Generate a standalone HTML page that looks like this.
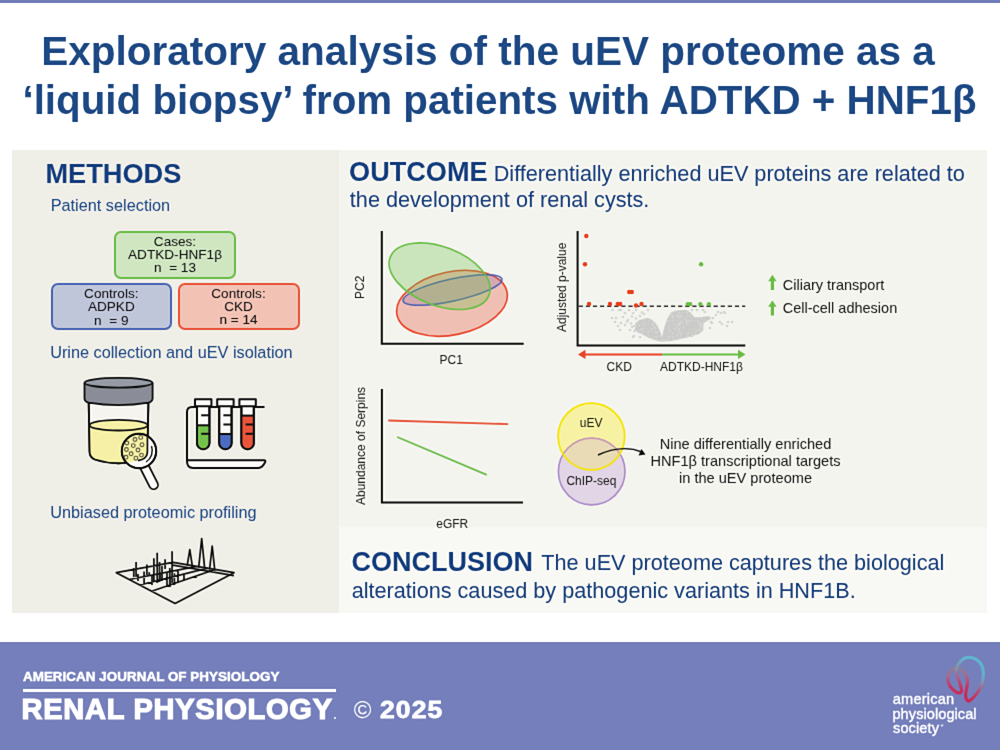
<!DOCTYPE html>
<html><head><meta charset="utf-8"><style>
html,body{margin:0;padding:0;}
body{width:1000px;height:750px;position:relative;overflow:hidden;background:#fff;font-family:"Liberation Sans", sans-serif;}
.t{position:absolute;white-space:pre;font-family:"Liberation Sans", sans-serif;}
.h{text-shadow:0 0 1px #fff,0 0 1.6px #fff,0 0 2px rgba(255,255,255,.8);}
.b{position:absolute;}
</style></head><body>
<svg width="0" height="0" style="position:absolute"><filter id="usm" x="0" y="0" width="100%" height="100%" color-interpolation-filters="sRGB"><feConvolveMatrix in="SourceGraphic" order="3" kernelMatrix="0.5 1 0.5 1 6.0 1 0.5 1 0.5" divisor="12.0" edgeMode="duplicate" preserveAlpha="true" result="a"/><feGaussianBlur in="SourceGraphic" stdDeviation="1.2" result="b"/><feComposite in="a" in2="b" operator="arithmetic" k1="0" k2="1.6" k3="-0.6" k4="0"/></filter></svg><div id="wrap" style="position:absolute;left:-12px;top:-12px;width:1024px;height:774px;background:#fff;filter:url(#usm);">
<div class="b" style="left:0;top:0;width:1024px;height:15px;background:#737dba"></div>
<div class="b" style="left:0;top:654px;width:1024px;height:120px;background:#757fbb"></div>
<div style="position:absolute;left:12px;top:12px;width:1000px;height:750px;">
<div class="b" style="left:12px;top:150px;width:327px;height:463px;background:#efeee7"></div>
<div class="b" style="left:339px;top:150px;width:648px;height:377px;background:#f4f4ef"></div>
<div class="b" style="left:339px;top:527px;width:648px;height:86px;background:#f8f8f4"></div>
<div class="b" style="left:0;top:642px;width:1000px;height:108px;background:#757fbb"></div>
<div class="b" style="left:23px;top:689px;width:313px;height:3px;background:#fff"></div>
<div class="b" style="left:114px;top:231px;width:122px;height:48px;box-sizing:border-box;border:2px solid #6cbd4a;background:#cfe6c1;border-radius:7px"></div>
<div class="b" style="left:51px;top:283px;width:121px;height:47px;box-sizing:border-box;border:2px solid #4a66b5;background:#c0c6da;border-radius:7px"></div>
<div class="b" style="left:177.5px;top:283px;width:122px;height:47px;box-sizing:border-box;border:2px solid #e8553a;background:#f2c3b5;border-radius:7px"></div>
<svg class="b" style="left:0;top:0" width="1000" height="750" viewBox="0 0 1000 750"><g id="pca">
<ellipse cx="452" cy="303.3" rx="56.2" ry="31.5" transform="rotate(-12 452 303.3)" fill="rgba(232,69,42,0.30)" stroke="#e8452a" stroke-width="1.6"/>
<ellipse cx="452.5" cy="290" rx="50.6" ry="11" transform="rotate(-12.4 452.5 290)" fill="rgba(110,90,170,0.22)" stroke="#4a62b2" stroke-width="1.5"/>
<ellipse cx="439.6" cy="276.2" rx="52.9" ry="29.3" transform="rotate(21 439.6 276.2)" fill="rgba(106,191,69,0.30)" stroke="#6abf45" stroke-width="1.6"/>
<path d="M381.8 231 V343.8 H523.7" fill="none" stroke="#111" stroke-width="2"/>
</g>
<g id="volcano">
<path d="M661.8 341.0 L654.0 339.2 L648.0 336.8 L643.8 334.4 L637.5 331.6 L635.4 329.0 L636.4 326.5 L636.0 323.5 L638.5 321.2 L643.0 319.6 L648.0 318.8 L652.0 320.5 L655.0 323.5 L657.5 327.0 L659.6 332.0 L661.2 337.0 Z" fill="#d4d4d2" stroke="#d2d2d0" stroke-width="1.5" stroke-linejoin="round"/>
<path d="M661.8 341.0 L663.2 334.0 L665.4 326.0 L667.6 319.5 L671.0 313.5 L675.0 311.4 L681.0 311.0 L687.0 310.8 L690.4 313.4 L694.0 317.6 L700.0 318.0 L708.4 316.8 L710.8 318.2 L703.0 322.6 L702.4 330.4 L698.8 333.4 L689.2 336.2 L680.0 338.6 L670.0 340.6 Z" fill="#d4d4d2" stroke="#d2d2d0" stroke-width="1.5" stroke-linejoin="round"/>
<g fill="#c4c4c2"><circle cx="677.9" cy="311.3" r="0.75"/><circle cx="679.8" cy="311.3" r="0.75"/><circle cx="681.2" cy="311.3" r="0.75"/><circle cx="683.5" cy="311.3" r="0.75"/><circle cx="684.9" cy="311.3" r="0.75"/><circle cx="673.6" cy="312.9" r="0.75"/><circle cx="675.3" cy="312.9" r="0.75"/><circle cx="677.1" cy="312.9" r="0.75"/><circle cx="680.7" cy="312.9" r="0.75"/><circle cx="682.1" cy="312.9" r="0.75"/><circle cx="684.3" cy="312.9" r="0.75"/><circle cx="685.7" cy="312.9" r="0.75"/><circle cx="689.7" cy="312.9" r="0.75"/><circle cx="672.8" cy="314.5" r="0.75"/><circle cx="674.5" cy="314.5" r="0.75"/><circle cx="676.4" cy="314.5" r="0.75"/><circle cx="679.5" cy="314.5" r="0.75"/><circle cx="681.8" cy="314.5" r="0.75"/><circle cx="683.4" cy="314.5" r="0.75"/><circle cx="685.1" cy="314.5" r="0.75"/><circle cx="686.8" cy="314.5" r="0.75"/><circle cx="688.8" cy="314.5" r="0.75"/><circle cx="670.1" cy="316.1" r="0.75"/><circle cx="675.0" cy="316.1" r="0.75"/><circle cx="682.5" cy="316.1" r="0.75"/><circle cx="684.4" cy="316.1" r="0.75"/><circle cx="685.9" cy="316.1" r="0.75"/><circle cx="688.0" cy="316.1" r="0.75"/><circle cx="691.6" cy="316.1" r="0.75"/><circle cx="668.7" cy="317.7" r="0.75"/><circle cx="670.9" cy="317.7" r="0.75"/><circle cx="674.4" cy="317.7" r="0.75"/><circle cx="676.2" cy="317.7" r="0.75"/><circle cx="678.1" cy="317.7" r="0.75"/><circle cx="681.8" cy="317.7" r="0.75"/><circle cx="683.0" cy="317.7" r="0.75"/><circle cx="684.8" cy="317.7" r="0.75"/><circle cx="686.8" cy="317.7" r="0.75"/><circle cx="688.5" cy="317.7" r="0.75"/><circle cx="690.7" cy="317.7" r="0.75"/><circle cx="692.6" cy="317.7" r="0.75"/><circle cx="703.1" cy="317.7" r="0.75"/><circle cx="705.0" cy="317.7" r="0.75"/><circle cx="706.7" cy="317.7" r="0.75"/><circle cx="708.8" cy="317.7" r="0.75"/><circle cx="646.4" cy="319.3" r="0.75"/><circle cx="648.0" cy="319.3" r="0.75"/><circle cx="668.3" cy="319.3" r="0.75"/><circle cx="669.8" cy="319.3" r="0.75"/><circle cx="671.5" cy="319.3" r="0.75"/><circle cx="673.1" cy="319.3" r="0.75"/><circle cx="675.3" cy="319.3" r="0.75"/><circle cx="677.1" cy="319.3" r="0.75"/><circle cx="678.9" cy="319.3" r="0.75"/><circle cx="680.7" cy="319.3" r="0.75"/><circle cx="682.1" cy="319.3" r="0.75"/><circle cx="684.3" cy="319.3" r="0.75"/><circle cx="687.8" cy="319.3" r="0.75"/><circle cx="689.5" cy="319.3" r="0.75"/><circle cx="691.3" cy="319.3" r="0.75"/><circle cx="693.3" cy="319.3" r="0.75"/><circle cx="694.9" cy="319.3" r="0.75"/><circle cx="696.5" cy="319.3" r="0.75"/><circle cx="698.7" cy="319.3" r="0.75"/><circle cx="700.2" cy="319.3" r="0.75"/><circle cx="703.8" cy="319.3" r="0.75"/><circle cx="705.9" cy="319.3" r="0.75"/><circle cx="707.5" cy="319.3" r="0.75"/><circle cx="640.3" cy="320.9" r="0.75"/><circle cx="642.1" cy="320.9" r="0.75"/><circle cx="643.6" cy="320.9" r="0.75"/><circle cx="645.7" cy="320.9" r="0.75"/><circle cx="647.1" cy="320.9" r="0.75"/><circle cx="649.1" cy="320.9" r="0.75"/><circle cx="651.1" cy="320.9" r="0.75"/><circle cx="670.6" cy="320.9" r="0.75"/><circle cx="674.5" cy="320.9" r="0.75"/><circle cx="675.9" cy="320.9" r="0.75"/><circle cx="678.1" cy="320.9" r="0.75"/><circle cx="679.6" cy="320.9" r="0.75"/><circle cx="681.5" cy="320.9" r="0.75"/><circle cx="683.6" cy="320.9" r="0.75"/><circle cx="684.8" cy="320.9" r="0.75"/><circle cx="692.6" cy="320.9" r="0.75"/><circle cx="696.0" cy="320.9" r="0.75"/><circle cx="699.5" cy="320.9" r="0.75"/><circle cx="701.2" cy="320.9" r="0.75"/><circle cx="702.8" cy="320.9" r="0.75"/><circle cx="704.8" cy="320.9" r="0.75"/><circle cx="639.4" cy="322.5" r="0.75"/><circle cx="641.3" cy="322.5" r="0.75"/><circle cx="646.1" cy="322.5" r="0.75"/><circle cx="648.0" cy="322.5" r="0.75"/><circle cx="650.1" cy="322.5" r="0.75"/><circle cx="651.7" cy="322.5" r="0.75"/><circle cx="667.9" cy="322.5" r="0.75"/><circle cx="670.0" cy="322.5" r="0.75"/><circle cx="671.8" cy="322.5" r="0.75"/><circle cx="673.2" cy="322.5" r="0.75"/><circle cx="675.4" cy="322.5" r="0.75"/><circle cx="677.2" cy="322.5" r="0.75"/><circle cx="684.3" cy="322.5" r="0.75"/><circle cx="687.7" cy="322.5" r="0.75"/><circle cx="689.6" cy="322.5" r="0.75"/><circle cx="691.4" cy="322.5" r="0.75"/><circle cx="692.9" cy="322.5" r="0.75"/><circle cx="694.8" cy="322.5" r="0.75"/><circle cx="696.5" cy="322.5" r="0.75"/><circle cx="702.2" cy="322.5" r="0.75"/><circle cx="636.4" cy="324.1" r="0.75"/><circle cx="638.4" cy="324.1" r="0.75"/><circle cx="640.0" cy="324.1" r="0.75"/><circle cx="641.8" cy="324.1" r="0.75"/><circle cx="643.7" cy="324.1" r="0.75"/><circle cx="645.4" cy="324.1" r="0.75"/><circle cx="647.1" cy="324.1" r="0.75"/><circle cx="649.2" cy="324.1" r="0.75"/><circle cx="650.8" cy="324.1" r="0.75"/><circle cx="654.5" cy="324.1" r="0.75"/><circle cx="667.1" cy="324.1" r="0.75"/><circle cx="668.9" cy="324.1" r="0.75"/><circle cx="670.7" cy="324.1" r="0.75"/><circle cx="672.5" cy="324.1" r="0.75"/><circle cx="674.0" cy="324.1" r="0.75"/><circle cx="676.1" cy="324.1" r="0.75"/><circle cx="681.7" cy="324.1" r="0.75"/><circle cx="683.2" cy="324.1" r="0.75"/><circle cx="684.9" cy="324.1" r="0.75"/><circle cx="688.9" cy="324.1" r="0.75"/><circle cx="690.6" cy="324.1" r="0.75"/><circle cx="692.3" cy="324.1" r="0.75"/><circle cx="694.2" cy="324.1" r="0.75"/><circle cx="695.7" cy="324.1" r="0.75"/><circle cx="697.4" cy="324.1" r="0.75"/><circle cx="699.3" cy="324.1" r="0.75"/><circle cx="637.1" cy="325.7" r="0.75"/><circle cx="641.2" cy="325.7" r="0.75"/><circle cx="643.0" cy="325.7" r="0.75"/><circle cx="646.6" cy="325.7" r="0.75"/><circle cx="648.4" cy="325.7" r="0.75"/><circle cx="650.1" cy="325.7" r="0.75"/><circle cx="651.9" cy="325.7" r="0.75"/><circle cx="655.3" cy="325.7" r="0.75"/><circle cx="666.4" cy="325.7" r="0.75"/><circle cx="667.8" cy="325.7" r="0.75"/><circle cx="669.9" cy="325.7" r="0.75"/><circle cx="671.5" cy="325.7" r="0.75"/><circle cx="673.3" cy="325.7" r="0.75"/><circle cx="675.2" cy="325.7" r="0.75"/><circle cx="677.0" cy="325.7" r="0.75"/><circle cx="680.7" cy="325.7" r="0.75"/><circle cx="682.5" cy="325.7" r="0.75"/><circle cx="684.3" cy="325.7" r="0.75"/><circle cx="686.0" cy="325.7" r="0.75"/><circle cx="688.0" cy="325.7" r="0.75"/><circle cx="689.4" cy="325.7" r="0.75"/><circle cx="691.6" cy="325.7" r="0.75"/><circle cx="693.2" cy="325.7" r="0.75"/><circle cx="694.8" cy="325.7" r="0.75"/><circle cx="696.6" cy="325.7" r="0.75"/><circle cx="698.5" cy="325.7" r="0.75"/><circle cx="700.5" cy="325.7" r="0.75"/><circle cx="636.6" cy="327.3" r="0.75"/><circle cx="638.5" cy="327.3" r="0.75"/><circle cx="640.0" cy="327.3" r="0.75"/><circle cx="641.6" cy="327.3" r="0.75"/><circle cx="643.6" cy="327.3" r="0.75"/><circle cx="645.4" cy="327.3" r="0.75"/><circle cx="647.5" cy="327.3" r="0.75"/><circle cx="649.4" cy="327.3" r="0.75"/><circle cx="651.0" cy="327.3" r="0.75"/><circle cx="652.9" cy="327.3" r="0.75"/><circle cx="656.3" cy="327.3" r="0.75"/><circle cx="665.5" cy="327.3" r="0.75"/><circle cx="667.2" cy="327.3" r="0.75"/><circle cx="670.5" cy="327.3" r="0.75"/><circle cx="672.6" cy="327.3" r="0.75"/><circle cx="674.6" cy="327.3" r="0.75"/><circle cx="677.7" cy="327.3" r="0.75"/><circle cx="679.5" cy="327.3" r="0.75"/><circle cx="681.7" cy="327.3" r="0.75"/><circle cx="685.3" cy="327.3" r="0.75"/><circle cx="686.9" cy="327.3" r="0.75"/><circle cx="688.5" cy="327.3" r="0.75"/><circle cx="690.7" cy="327.3" r="0.75"/><circle cx="692.2" cy="327.3" r="0.75"/><circle cx="694.2" cy="327.3" r="0.75"/><circle cx="695.8" cy="327.3" r="0.75"/><circle cx="697.7" cy="327.3" r="0.75"/><circle cx="699.6" cy="327.3" r="0.75"/><circle cx="635.6" cy="328.9" r="0.75"/><circle cx="637.3" cy="328.9" r="0.75"/><circle cx="639.0" cy="328.9" r="0.75"/><circle cx="644.9" cy="328.9" r="0.75"/><circle cx="646.6" cy="328.9" r="0.75"/><circle cx="648.1" cy="328.9" r="0.75"/><circle cx="650.1" cy="328.9" r="0.75"/><circle cx="653.8" cy="328.9" r="0.75"/><circle cx="657.2" cy="328.9" r="0.75"/><circle cx="666.2" cy="328.9" r="0.75"/><circle cx="668.1" cy="328.9" r="0.75"/><circle cx="669.8" cy="328.9" r="0.75"/><circle cx="671.7" cy="328.9" r="0.75"/><circle cx="673.2" cy="328.9" r="0.75"/><circle cx="676.8" cy="328.9" r="0.75"/><circle cx="680.5" cy="328.9" r="0.75"/><circle cx="682.5" cy="328.9" r="0.75"/><circle cx="684.3" cy="328.9" r="0.75"/><circle cx="685.9" cy="328.9" r="0.75"/><circle cx="687.5" cy="328.9" r="0.75"/><circle cx="689.8" cy="328.9" r="0.75"/><circle cx="691.5" cy="328.9" r="0.75"/><circle cx="693.1" cy="328.9" r="0.75"/><circle cx="695.2" cy="328.9" r="0.75"/><circle cx="696.8" cy="328.9" r="0.75"/><circle cx="698.8" cy="328.9" r="0.75"/><circle cx="700.3" cy="328.9" r="0.75"/><circle cx="702.2" cy="328.9" r="0.75"/><circle cx="638.2" cy="330.5" r="0.75"/><circle cx="641.8" cy="330.5" r="0.75"/><circle cx="643.5" cy="330.5" r="0.75"/><circle cx="645.6" cy="330.5" r="0.75"/><circle cx="647.1" cy="330.5" r="0.75"/><circle cx="649.2" cy="330.5" r="0.75"/><circle cx="652.8" cy="330.5" r="0.75"/><circle cx="654.4" cy="330.5" r="0.75"/><circle cx="656.3" cy="330.5" r="0.75"/><circle cx="657.9" cy="330.5" r="0.75"/><circle cx="665.5" cy="330.5" r="0.75"/><circle cx="667.3" cy="330.5" r="0.75"/><circle cx="672.5" cy="330.5" r="0.75"/><circle cx="674.4" cy="330.5" r="0.75"/><circle cx="677.8" cy="330.5" r="0.75"/><circle cx="681.6" cy="330.5" r="0.75"/><circle cx="683.0" cy="330.5" r="0.75"/><circle cx="685.2" cy="330.5" r="0.75"/><circle cx="686.9" cy="330.5" r="0.75"/><circle cx="688.5" cy="330.5" r="0.75"/><circle cx="690.2" cy="330.5" r="0.75"/><circle cx="692.4" cy="330.5" r="0.75"/><circle cx="694.1" cy="330.5" r="0.75"/><circle cx="699.7" cy="330.5" r="0.75"/><circle cx="701.0" cy="330.5" r="0.75"/><circle cx="639.0" cy="332.1" r="0.75"/><circle cx="641.0" cy="332.1" r="0.75"/><circle cx="644.8" cy="332.1" r="0.75"/><circle cx="646.2" cy="332.1" r="0.75"/><circle cx="650.3" cy="332.1" r="0.75"/><circle cx="651.9" cy="332.1" r="0.75"/><circle cx="653.8" cy="332.1" r="0.75"/><circle cx="659.2" cy="332.1" r="0.75"/><circle cx="664.2" cy="332.1" r="0.75"/><circle cx="665.9" cy="332.1" r="0.75"/><circle cx="667.8" cy="332.1" r="0.75"/><circle cx="669.9" cy="332.1" r="0.75"/><circle cx="671.6" cy="332.1" r="0.75"/><circle cx="673.3" cy="332.1" r="0.75"/><circle cx="675.4" cy="332.1" r="0.75"/><circle cx="676.8" cy="332.1" r="0.75"/><circle cx="680.5" cy="332.1" r="0.75"/><circle cx="682.4" cy="332.1" r="0.75"/><circle cx="684.0" cy="332.1" r="0.75"/><circle cx="685.8" cy="332.1" r="0.75"/><circle cx="687.6" cy="332.1" r="0.75"/><circle cx="689.4" cy="332.1" r="0.75"/><circle cx="691.2" cy="332.1" r="0.75"/><circle cx="693.0" cy="332.1" r="0.75"/><circle cx="694.8" cy="332.1" r="0.75"/><circle cx="696.8" cy="332.1" r="0.75"/><circle cx="698.3" cy="332.1" r="0.75"/><circle cx="643.6" cy="333.7" r="0.75"/><circle cx="645.2" cy="333.7" r="0.75"/><circle cx="647.2" cy="333.7" r="0.75"/><circle cx="649.4" cy="333.7" r="0.75"/><circle cx="650.7" cy="333.7" r="0.75"/><circle cx="652.5" cy="333.7" r="0.75"/><circle cx="654.4" cy="333.7" r="0.75"/><circle cx="656.0" cy="333.7" r="0.75"/><circle cx="658.0" cy="333.7" r="0.75"/><circle cx="659.9" cy="333.7" r="0.75"/><circle cx="665.1" cy="333.7" r="0.75"/><circle cx="667.3" cy="333.7" r="0.75"/><circle cx="668.8" cy="333.7" r="0.75"/><circle cx="670.8" cy="333.7" r="0.75"/><circle cx="674.0" cy="333.7" r="0.75"/><circle cx="675.9" cy="333.7" r="0.75"/><circle cx="677.6" cy="333.7" r="0.75"/><circle cx="679.8" cy="333.7" r="0.75"/><circle cx="683.6" cy="333.7" r="0.75"/><circle cx="685.3" cy="333.7" r="0.75"/><circle cx="690.4" cy="333.7" r="0.75"/><circle cx="692.6" cy="333.7" r="0.75"/><circle cx="694.0" cy="333.7" r="0.75"/><circle cx="697.6" cy="333.7" r="0.75"/><circle cx="646.5" cy="335.3" r="0.75"/><circle cx="650.1" cy="335.3" r="0.75"/><circle cx="652.0" cy="335.3" r="0.75"/><circle cx="653.9" cy="335.3" r="0.75"/><circle cx="655.3" cy="335.3" r="0.75"/><circle cx="657.4" cy="335.3" r="0.75"/><circle cx="658.9" cy="335.3" r="0.75"/><circle cx="664.5" cy="335.3" r="0.75"/><circle cx="666.3" cy="335.3" r="0.75"/><circle cx="668.0" cy="335.3" r="0.75"/><circle cx="669.9" cy="335.3" r="0.75"/><circle cx="671.6" cy="335.3" r="0.75"/><circle cx="673.5" cy="335.3" r="0.75"/><circle cx="675.0" cy="335.3" r="0.75"/><circle cx="679.0" cy="335.3" r="0.75"/><circle cx="682.6" cy="335.3" r="0.75"/><circle cx="684.1" cy="335.3" r="0.75"/><circle cx="685.7" cy="335.3" r="0.75"/><circle cx="688.1" cy="335.3" r="0.75"/><circle cx="689.6" cy="335.3" r="0.75"/><circle cx="691.1" cy="335.3" r="0.75"/><circle cx="648.9" cy="336.9" r="0.75"/><circle cx="650.7" cy="336.9" r="0.75"/><circle cx="652.8" cy="336.9" r="0.75"/><circle cx="654.3" cy="336.9" r="0.75"/><circle cx="658.1" cy="336.9" r="0.75"/><circle cx="660.1" cy="336.9" r="0.75"/><circle cx="663.7" cy="336.9" r="0.75"/><circle cx="665.1" cy="336.9" r="0.75"/><circle cx="666.8" cy="336.9" r="0.75"/><circle cx="670.4" cy="336.9" r="0.75"/><circle cx="674.5" cy="336.9" r="0.75"/><circle cx="676.1" cy="336.9" r="0.75"/><circle cx="678.1" cy="336.9" r="0.75"/><circle cx="679.8" cy="336.9" r="0.75"/><circle cx="681.7" cy="336.9" r="0.75"/><circle cx="683.4" cy="336.9" r="0.75"/><circle cx="684.9" cy="336.9" r="0.75"/><circle cx="655.6" cy="338.5" r="0.75"/><circle cx="657.2" cy="338.5" r="0.75"/><circle cx="659.1" cy="338.5" r="0.75"/><circle cx="660.7" cy="338.5" r="0.75"/><circle cx="662.3" cy="338.5" r="0.75"/><circle cx="664.5" cy="338.5" r="0.75"/><circle cx="666.3" cy="338.5" r="0.75"/><circle cx="667.8" cy="338.5" r="0.75"/><circle cx="670.1" cy="338.5" r="0.75"/><circle cx="671.6" cy="338.5" r="0.75"/><circle cx="673.2" cy="338.5" r="0.75"/><circle cx="675.5" cy="338.5" r="0.75"/><circle cx="677.2" cy="338.5" r="0.75"/><circle cx="658.4" cy="340.1" r="0.75"/><circle cx="659.9" cy="340.1" r="0.75"/><circle cx="669.1" cy="340.1" r="0.75"/><circle cx="671.0" cy="340.1" r="0.75"/></g>
<circle cx="612.5" cy="310" r="1.3" fill="#d4d4d2"/>
<circle cx="619" cy="310" r="1.3" fill="#d4d4d2"/>
<circle cx="621" cy="310" r="1.3" fill="#d4d4d2"/>
<circle cx="629" cy="310" r="1.3" fill="#d4d4d2"/>
<circle cx="636" cy="310" r="1.3" fill="#d4d4d2"/>
<circle cx="648" cy="310" r="1.3" fill="#d4d4d2"/>
<circle cx="625" cy="313" r="1.3" fill="#d4d4d2"/>
<circle cx="633" cy="313" r="1.3" fill="#d4d4d2"/>
<circle cx="616" cy="318" r="1.3" fill="#d4d4d2"/>
<circle cx="623" cy="317" r="1.3" fill="#d4d4d2"/>
<circle cx="628" cy="320" r="1.3" fill="#d4d4d2"/>
<circle cx="640" cy="316" r="1.3" fill="#d4d4d2"/>
<circle cx="621" cy="323" r="1.3" fill="#d4d4d2"/>
<circle cx="625" cy="325" r="1.3" fill="#d4d4d2"/>
<circle cx="632" cy="327" r="1.3" fill="#d4d4d2"/>
<circle cx="634" cy="326" r="1.3" fill="#d4d4d2"/>
<circle cx="634" cy="336" r="1.3" fill="#d4d4d2"/>
<circle cx="692" cy="310" r="1.3" fill="#d4d4d2"/>
<circle cx="697" cy="310" r="1.3" fill="#d4d4d2"/>
<circle cx="703" cy="310" r="1.3" fill="#d4d4d2"/>
<circle cx="718" cy="312" r="1.3" fill="#d4d4d2"/>
<circle cx="724" cy="312" r="1.3" fill="#d4d4d2"/>
<circle cx="725" cy="313" r="1.3" fill="#d4d4d2"/>
<circle cx="711" cy="322" r="1.3" fill="#d4d4d2"/>
<circle cx="712" cy="323" r="1.3" fill="#d4d4d2"/>
<circle cx="720" cy="322" r="1.3" fill="#d4d4d2"/>
<circle cx="722" cy="324" r="1.3" fill="#d4d4d2"/>
<circle cx="728" cy="322" r="1.3" fill="#d4d4d2"/>
<circle cx="732" cy="322" r="1.3" fill="#d4d4d2"/>
<circle cx="727" cy="326" r="1.3" fill="#d4d4d2"/>
<circle cx="640" cy="337" r="1.3" fill="#d4d4d2"/>
<circle cx="633" cy="337" r="1.3" fill="#d4d4d2"/>
<circle cx="692" cy="336" r="1.3" fill="#d4d4d2"/>
<circle cx="700" cy="330" r="1.3" fill="#d4d4d2"/>
<circle cx="710" cy="328" r="1.3" fill="#d4d4d2"/>
<circle cx="700" cy="326" r="1.3" fill="#d4d4d2"/>
<circle cx="716" cy="315" r="1.3" fill="#d4d4d2"/>
<circle cx="721" cy="313" r="1.3" fill="#d4d4d2"/>
<circle cx="618" cy="326" r="1.3" fill="#d4d4d2"/>
<circle cx="630" cy="330" r="1.3" fill="#d4d4d2"/>
<circle cx="644" cy="314" r="1.3" fill="#d4d4d2"/>
<circle cx="705" cy="312" r="1.3" fill="#d4d4d2"/>
<circle cx="713" cy="318" r="1.3" fill="#d4d4d2"/>
<circle cx="632" cy="316.5" r="1.3" fill="#d4d4d2"/>
<circle cx="627" cy="321.5" r="1.3" fill="#d4d4d2"/>
<circle cx="631" cy="323.5" r="1.3" fill="#d4d4d2"/>
<circle cx="636" cy="318.5" r="1.3" fill="#d4d4d2"/>
<circle cx="642" cy="312.5" r="1.3" fill="#d4d4d2"/>
<circle cx="612" cy="318" r="1.3" fill="#d4d4d2"/>
<circle cx="615" cy="322" r="1.3" fill="#d4d4d2"/>
<circle cx="620" cy="330" r="1.3" fill="#d4d4d2"/>
<circle cx="634.5" cy="331" r="1.3" fill="#d4d4d2"/>
<path d="M578.7 306.2 H745.3" stroke="#333" stroke-width="1.4" stroke-dasharray="4.2 2.9"/>
<circle cx="586.3" cy="236" r="2.2" fill="#e8411e"/>
<circle cx="585" cy="264.3" r="2.2" fill="#e8411e"/>
<circle cx="629.2" cy="292" r="2.2" fill="#e8411e"/>
<circle cx="631.8" cy="292" r="2.2" fill="#e8411e"/>
<circle cx="589" cy="304" r="2.2" fill="#e8411e"/>
<circle cx="610" cy="304" r="2.2" fill="#e8411e"/>
<circle cx="617.8" cy="304" r="2.2" fill="#e8411e"/>
<circle cx="620.2" cy="304" r="2.2" fill="#e8411e"/>
<circle cx="636" cy="305.5" r="2.2" fill="#e8411e"/>
<circle cx="641.5" cy="304" r="2.2" fill="#e8411e"/>
<circle cx="701.1" cy="264.3" r="2.2" fill="#6bbd45"/>
<circle cx="687.8" cy="304.1" r="2.2" fill="#6bbd45"/>
<circle cx="690.2" cy="304.1" r="2.2" fill="#6bbd45"/>
<circle cx="700.3" cy="304.1" r="2.2" fill="#6bbd45"/>
<circle cx="708.9" cy="304.1" r="2.2" fill="#6bbd45"/>
<path d="M577.6 231 V345.6 H745.3" fill="none" stroke="#111" stroke-width="2"/>
<path d="M583 354.4 H662" stroke="#e8452a" stroke-width="2"/>
<path d="M662 354.4 H741" stroke="#6bbd45" stroke-width="2"/>
<path d="M578 354.4 L585.5 349.8 L585.5 359 Z" fill="#e8452a"/>
<path d="M745.5 354.4 L738 349.8 L738 359 Z" fill="#6bbd45"/>
</g>
<path d="M772.4 274.8 L776.6 281.2 L774 281.2 L774 290.0 L770.8 290.0 L770.8 281.2 L768.2 281.2 Z" fill="#6bbd45"/>
<path d="M772.4 300.4 L776.6 306.79999999999995 L774 306.79999999999995 L774 315.59999999999997 L770.8 315.59999999999997 L770.8 306.79999999999995 L768.2 306.79999999999995 Z" fill="#6bbd45"/>
<path d="M388.3 420.5 L508.1 424.1" stroke="#e8553a" stroke-width="1.8"/>
<path d="M397.2 437 L486.8 474.9" stroke="#6cbd4a" stroke-width="1.8"/>
<path d="M381.9 389 V502.5 H523" fill="none" stroke="#111" stroke-width="2"/>
<defs><clipPath id="cpP"><circle cx="591.7" cy="471.6" r="33.3"/></clipPath><clipPath id="cpY"><circle cx="591.4" cy="436.5" r="33.3"/></clipPath>
<linearGradient id="apsA" x1="0" y1="656" x2="0" y2="700" gradientUnits="userSpaceOnUse"><stop offset="0" stop-color="#5db5d0"/><stop offset="0.45" stop-color="#62aecb"/><stop offset="0.6" stop-color="#8e8aa8"/><stop offset="0.78" stop-color="#b34f7a"/><stop offset="1" stop-color="#c8285a"/></linearGradient><linearGradient id="apsC" x1="955" y1="0" x2="964" y2="0" gradientUnits="userSpaceOnUse"><stop offset="0" stop-color="#8a8ca6"/><stop offset="1" stop-color="#5db5d0"/></linearGradient><linearGradient id="apsB" x1="0" y1="666" x2="0" y2="696" gradientUnits="userSpaceOnUse"><stop offset="0" stop-color="#84849f"/><stop offset="0.3" stop-color="#a86a8e"/><stop offset="0.65" stop-color="#c23764"/><stop offset="1" stop-color="#c8285a"/></linearGradient>
<clipPath id="lens"><circle cx="139" cy="451" r="16.2"/></clipPath>
<clipPath id="cupc"><path d="M88.7 405 L90 457 Q118.5 470 147.5 457 L148.4 405 Z"/></clipPath>
</defs>
<circle cx="591.4" cy="436.5" r="33.3" fill="#f7f2a3"/>
<circle cx="591.7" cy="471.6" r="33.3" fill="#e1d5e6" stroke="#ab8ac8" stroke-width="1.6"/>
<circle cx="591.4" cy="436.5" r="33.3" fill="#e9dbb5" clip-path="url(#cpP)"/>
<circle cx="591.7" cy="471.6" r="33.3" fill="none" stroke="#c89ab2" stroke-width="1.4" clip-path="url(#cpY)"/>
<circle cx="591.4" cy="436.5" r="33.3" fill="none" stroke="#f5e400" stroke-width="1.7"/>
<path d="M598 455 Q622 444 642 452" fill="none" stroke="#111" stroke-width="1.4"/>
<path d="M645.5 454.5 L638.5 455.5 L641.5 449 Z" fill="#111"/>
<g stroke="#111" stroke-width="1.8" stroke-linejoin="round">
<path d="M88.7 403 L89.6 452 Q89.8 457.5 95 459.5 Q118.5 467 142 459.5 Q147.2 457.5 147.4 452 L148.4 403 Z" fill="#f5f4ef"/>
<path d="M89.7 425.2 L89.6 452 Q89.8 457.5 95 459.5 Q118.5 467 142 459.5 Q147.2 457.5 147.4 452 L147.7 425.2 Z" fill="#f5f0a6" stroke="none"/>
<path d="M88.7 403 L89.6 452 Q89.8 457.5 95 459.5 Q118.5 467 142 459.5 Q147.2 457.5 147.4 452 L148.4 403" fill="none"/>
<ellipse cx="118.6" cy="425.2" rx="29" ry="5.3" fill="#f5f0a6"/>
<path d="M84.5 382.8 V398.5 Q84.6 401.6 88.5 402.6 Q118.5 407.6 148.6 402.6 Q152.5 401.6 152.6 398.5 V382.8" fill="#8a8d97"/>
<ellipse cx="118.5" cy="382.8" rx="34" ry="4.9" fill="#959aa5"/>
</g>
<g stroke="#111" stroke-width="1.7">
<path d="M143 464 L153.6 484.8" stroke="#111" stroke-width="10.5" stroke-linecap="round"/>
<path d="M143 464 L153.6 484.8" stroke="#fbfbf8" stroke-width="7" stroke-linecap="round"/>
<circle cx="139" cy="451" r="17.2" fill="#fbfbf8"/>
</g>
<g clip-path="url(#lens)">
<path d="M88 405 L89.6 452 Q89.8 457.5 95 459.5 Q118.5 467 142 459.5 Q147.2 457.5 147.3 452 L147.3 405 Z" fill="#f5f0a6"/>
<path d="M147.5 430 L147.4 452 Q147.2 457.5 142 459.5 L138 460.6" fill="none" stroke="#111" stroke-width="1.7"/>
<circle cx="126.8" cy="443" r="1.9" fill="none" stroke="#57533f" stroke-width="1.1"/>
<circle cx="135" cy="439.5" r="1.9" fill="none" stroke="#57533f" stroke-width="1.1"/>
<circle cx="140.7" cy="437.4" r="1.9" fill="none" stroke="#57533f" stroke-width="1.1"/>
<circle cx="133.3" cy="445.6" r="1.9" fill="none" stroke="#57533f" stroke-width="1.1"/>
<circle cx="142" cy="444.7" r="1.9" fill="none" stroke="#57533f" stroke-width="1.1"/>
<circle cx="126.4" cy="449.5" r="1.9" fill="none" stroke="#57533f" stroke-width="1.1"/>
<circle cx="138" cy="450" r="1.9" fill="none" stroke="#57533f" stroke-width="1.1"/>
<circle cx="131.1" cy="453.8" r="1.9" fill="none" stroke="#57533f" stroke-width="1.1"/>
<circle cx="141.5" cy="455.1" r="1.9" fill="none" stroke="#57533f" stroke-width="1.1"/>
<circle cx="126" cy="457.3" r="1.9" fill="none" stroke="#57533f" stroke-width="1.1"/>
<circle cx="135.9" cy="458.2" r="1.9" fill="none" stroke="#57533f" stroke-width="1.1"/>
</g>
<circle cx="139" cy="451" r="17.2" fill="none" stroke="#111" stroke-width="2"/>
<path d="M151.5 446 A13.5 13.5 0 0 1 146 462" fill="none" stroke="#111" stroke-width="1.4"/>
<g stroke="#111" stroke-width="2" fill="none" stroke-linejoin="round">
<path d="M264.5 407 H192 Q187 407 187 412 V461"/>
<path d="M187 460.3 H264 Q266 460.3 265 462.5 Q262 467.9 258.5 467.9 H193 Q187 467.9 187 461 Z" fill="#fbfbf8"/>
<path d="M197.0 406 V443 A6.2 6.2 0 0 0 209.39999999999998 443 V406 Z" fill="#fbfbf8"/>
<path d="M197.0 425.3 V443 A6.2 6.2 0 0 0 209.39999999999998 443 V425.3 Z" fill="#73c04b" stroke="none"/>
<path d="M197.0 425.3 H209.39999999999998"/>
<path d="M201.2 415.3 H209.39999999999998"/>
<path d="M201.2 433.8 H209.39999999999998"/>
<path d="M197.0 406 V443 A6.2 6.2 0 0 0 209.39999999999998 443 V406"/>
<rect x="195.0" y="399.2" width="16.4" height="7" fill="#fbfbf8"/>
<path d="M219.20000000000002 406 V443 A6.2 6.2 0 0 0 231.6 443 V406 Z" fill="#fbfbf8"/>
<path d="M219.20000000000002 434 V443 A6.2 6.2 0 0 0 231.6 443 V434 Z" fill="#4a6bbf" stroke="none"/>
<path d="M219.20000000000002 434 H231.6"/>
<path d="M223.4 415.3 H231.6"/>
<path d="M223.4 424.5 H231.6"/>
<path d="M219.20000000000002 406 V443 A6.2 6.2 0 0 0 231.6 443 V406"/>
<rect x="217.20000000000002" y="399.2" width="16.4" height="7" fill="#fbfbf8"/>
<path d="M241.4 406 V443 A6.2 6.2 0 0 0 253.79999999999998 443 V406 Z" fill="#fbfbf8"/>
<path d="M241.4 415.6 V443 A6.2 6.2 0 0 0 253.79999999999998 443 V415.6 Z" fill="#e9553a" stroke="none"/>
<path d="M241.4 415.6 H253.79999999999998"/>
<path d="M245.6 424.5 H253.79999999999998"/>
<path d="M245.6 433.8 H253.79999999999998"/>
<path d="M241.4 406 V443 A6.2 6.2 0 0 0 253.79999999999998 443 V406"/>
<rect x="239.4" y="399.2" width="16.4" height="7" fill="#fbfbf8"/>
</g>
<path d="M116.3 572.7 L175.1 603.5 L234 572.7 L173 562.3 Z M173 565.2 L234 575.6 M129.2 579.5 L196.8 566.4 M139.8 585.0 L207.8 568.2 M151.6 591.2 L215.1 569.5 M133.8 568.1 V577 M136.1 562.1 V577 M144.1 571.4 V584 M146.9 564.4 V575 M149.2 572.3 V575 M153.9 558.3 V583 M157.2 552.7 V583 M159.5 562.1 V582 M165.1 559.3 V569 M169.8 568.1 V587 M172.1 551.3 V583 M167 572.3 V586 M174.4 573.3 V585 M160 574 V579 M138 574 V581 M178 570 V583 M184 575 V581 M196 576 V578 M152 576 V585 M162 566 V581 M170 577 V587" fill="none" stroke="#111" stroke-width="1.7" stroke-linejoin="round"/>
<path d="M187.20000000000002 565.6642622950819 L189.8 549.6 L192.4 566.6642622950819 M198.7 567.6931147540984 L201.7 538.7 L204.7 568.6931147540984 M209.6 569.4832786885246 L212.2 546.1 L214.79999999999998 570.4832786885246" fill="none" stroke="#111" stroke-width="1.7" stroke-linejoin="round"/>
<g transform="translate(0 0.8)" fill="none" stroke-width="3.2" stroke-linecap="round">
<path d="M952.50 668.30 C951.03 669.40 948.72 671.75 948.10 674.20 C947.48 676.65 947.95 680.55 948.80 683.00 C949.65 685.45 951.48 687.37 953.20 688.90 C954.92 690.43 957.70 692.08 959.10 692.20 C960.50 692.32 961.48 691.25 961.60 689.60 C961.72 687.95 960.47 684.62 959.80 682.30 C959.13 679.98 958.22 677.90 957.60 675.70 C956.98 673.50 955.98 671.18 956.10 669.10" stroke="url(#apsB)"/>
<path d="M969.30 699.90 C967.95 700.38 967.00 699.63 966.40 698.40 C965.80 697.17 965.58 694.70 965.70 692.50 C965.82 690.30 966.80 687.40 967.10 685.20 C967.40 683.00 967.87 681.38 967.50 679.30 C967.13 677.22 965.93 674.40 964.90 672.70 C963.87 671.00 962.63 669.95 961.30 669.10 C959.97 668.25 958.37 667.73 956.90 667.60 C955.43 667.47 953.97 667.20 952.50 668.30" stroke="url(#apsB)"/>
<path d="M963.50 658.10 C965.33 657.00 967.10 656.48 969.30 656.60 C971.50 656.72 974.62 657.45 976.70 658.80 C978.78 660.15 980.70 662.50 981.80 664.70 C982.90 666.90 983.18 669.32 983.30 672.00 C983.42 674.68 983.12 678.12 982.50 680.80 C981.88 683.48 980.93 685.65 979.60 688.10 C978.27 690.55 976.22 693.53 974.50 695.50 C972.78 697.47 970.65 699.42 969.30 699.90" stroke="url(#apsA)"/>
<path d="M956.10 669.10 C956.22 667.02 957.07 665.03 958.30 663.20 C959.53 661.37 961.67 659.20 963.50 658.10" stroke="url(#apsC)"/>
</g></svg>
<div class="t" style="left:41.29px;top:30.55px;font-size:40.5px;line-height:40.5px;color:#1f4a85;font-weight:700;">Exploratory analysis of the uEV proteome as a</div>
<div class="t" style="left:22.46px;top:79.83px;font-size:40.35px;line-height:40.35px;color:#1f4a85;font-weight:700;">‘liquid biopsy’ from patients with ADTKD + HNF1β</div>
<div class="t" style="left:45.38px;top:159.70px;font-size:27.2px;line-height:27.2px;color:#163f7f;font-weight:700;">METHODS</div>
<div class="t" style="left:50.66px;top:197.45px;font-size:16.3px;line-height:16.3px;color:#1f4886;">Patient selection</div>
<div class="t" style="left:50.14px;top:344.35px;font-size:16.3px;line-height:16.3px;color:#1f4886;">Urine collection and uEV isolation</div>
<div class="t" style="left:50.24px;top:504.25px;font-size:16.3px;line-height:16.3px;color:#1f4886;">Unbiased proteomic profiling</div>
<div class="t" style="left:349.09px;top:157.95px;font-size:27.1px;line-height:27.1px;color:#163f7f;font-weight:700;">OUTCOME</div>
<div class="t" style="left:493.72px;top:162.68px;font-size:21.65px;line-height:21.65px;color:#173e7c;">Differentially enriched uEV proteins are related to</div>
<div class="t" style="left:349.87px;top:189.28px;font-size:21.65px;line-height:21.65px;color:#173e7c;">the development of renal cysts.</div>
<div class="t" style="left:351.49px;top:548.50px;font-size:27.0px;line-height:27.0px;color:#163f7f;font-weight:700;">CONCLUSION</div>
<div class="t" style="left:541.31px;top:552.47px;font-size:21.65px;line-height:21.65px;color:#173e7c;">The uEV proteome captures the biological</div>
<div class="t" style="left:351.68px;top:579.67px;font-size:21.65px;line-height:21.65px;color:#173e7c;">alterations caused by pathogenic variants in HNF1B.</div>
<div class="t" style="left:-125.00px;width:600px;text-align:center;top:234.50px;font-size:13.6px;line-height:13.6px;color:#111;">Cases:</div>
<div class="t" style="left:-125.00px;width:600px;text-align:center;top:248.00px;font-size:13.6px;line-height:13.6px;color:#111;">ADTKD-HNF1β</div>
<div class="t" style="left:-125.00px;width:600px;text-align:center;top:261.20px;font-size:13.6px;line-height:13.6px;color:#111;">n  = 13</div>
<div class="t" style="left:-188.70px;width:600px;text-align:center;top:286.60px;font-size:13.6px;line-height:13.6px;color:#111;">Controls:</div>
<div class="t" style="left:-188.70px;width:600px;text-align:center;top:300.10px;font-size:13.6px;line-height:13.6px;color:#111;">ADPKD</div>
<div class="t" style="left:-188.70px;width:600px;text-align:center;top:313.60px;font-size:13.6px;line-height:13.6px;color:#111;">n  = 9</div>
<div class="t" style="left:-61.50px;width:600px;text-align:center;top:286.60px;font-size:13.6px;line-height:13.6px;color:#111;">Controls:</div>
<div class="t" style="left:-61.50px;width:600px;text-align:center;top:300.10px;font-size:13.6px;line-height:13.6px;color:#111;">CKD</div>
<div class="t" style="left:-61.50px;width:600px;text-align:center;top:313.20px;font-size:13.6px;line-height:13.6px;color:#111;-webkit-text-stroke:0.08px #111;">n = 14</div>
<div class="t" style="left:353.50px;top:298.30px;font-size:12px;line-height:12px;color:#1a1a1a;transform-origin:0 0;transform:rotate(-90deg) translate(-0.98px,0);">PC2</div>
<div class="t" style="left:439.52px;top:354.00px;font-size:12px;line-height:12px;color:#1a1a1a;">PC1</div>
<div class="t" style="left:555.50px;top:332.40px;font-size:12px;line-height:12px;color:#1a1a1a;transform-origin:0 0;transform:rotate(-90deg) translate(-0.02px,0);">Adjusted p-value</div>
<div class="t" style="left:606.59px;top:360.50px;font-size:12px;line-height:12px;color:#1a1a1a;">CKD</div>
<div class="t" style="left:659.98px;top:360.50px;font-size:12px;line-height:12px;color:#1a1a1a;">ADTKD-HNF1β</div>
<div class="t" style="left:782.76px;top:277.55px;font-size:14.5px;line-height:14.5px;color:#1a1a1a;">Ciliary transport</div>
<div class="t" style="left:782.76px;top:301.35px;font-size:14.5px;line-height:14.5px;color:#1a1a1a;">Cell-cell adhesion</div>
<div class="t" style="left:354.50px;top:504.70px;font-size:12px;line-height:12px;color:#1a1a1a;transform-origin:0 0;transform:rotate(-90deg) translate(-0.02px,0);">Abundance of Serpins</div>
<div class="t" style="left:436.29px;top:518.10px;font-size:12px;line-height:12px;color:#1a1a1a;">eGFR</div>
<div class="t" style="left:291.20px;width:600px;text-align:center;top:416.70px;font-size:12px;line-height:12px;color:#1a1a1a;">uEV</div>
<div class="t" style="left:291.40px;width:600px;text-align:center;top:475.40px;font-size:12px;line-height:12px;color:#1a1a1a;">ChIP-seq</div>
<div class="t" style="left:445.50px;width:600px;text-align:center;top:436.50px;font-size:14.6px;line-height:14.6px;color:#1a1a1a;">Nine differentially enriched</div>
<div class="t" style="left:445.50px;width:600px;text-align:center;top:454.10px;font-size:14.6px;line-height:14.6px;color:#1a1a1a;">HNF1β transcriptional targets</div>
<div class="t" style="left:445.50px;width:600px;text-align:center;top:471.00px;font-size:14.6px;line-height:14.6px;color:#1a1a1a;">in the uEV proteome</div>
<div class="t" style="left:22.97px;top:670.40px;font-size:13.4px;line-height:13.4px;color:#fff;font-weight:700;letter-spacing:0.05px;-webkit-text-stroke:0.5px #fff;">AMERICAN JOURNAL OF PHYSIOLOGY</div>
<div class="t" style="left:21.56px;top:694.90px;font-size:29px;line-height:29px;color:#fff;font-weight:700;letter-spacing:0.75px;-webkit-text-stroke:1.2px #fff;">RENAL PHYSIOLOGY</div>
<div class="b" style="left:334px;top:717px;width:2px;height:2px;border-radius:1px;background:#fff"></div>
<div class="t" style="left:353.64px;top:698.20px;font-size:24px;line-height:24px;color:#fff;">©</div>
<div class="t" style="left:379.68px;top:698.90px;font-size:23.6px;line-height:23.6px;color:#fff;font-weight:700;letter-spacing:1.0px;-webkit-text-stroke:0.8px #fff;transform-origin:0 0;transform:scaleX(1.12);">2025</div>
<div class="t" style="left:892.78px;top:691.70px;font-size:14.6px;line-height:14.6px;color:#fff;letter-spacing:0.2px;-webkit-text-stroke:0.35px #fff;">american</div>
<div class="t" style="left:892.46px;top:706.50px;font-size:14.6px;line-height:14.6px;color:#fff;letter-spacing:0.05px;-webkit-text-stroke:0.35px #fff;">physiological</div>
<div class="t" style="left:892.99px;top:720.90px;font-size:14.6px;line-height:14.6px;color:#fff;letter-spacing:0.1px;-webkit-text-stroke:0.35px #fff;">society</div>
<div class="t" style="left:940.47px;top:722.50px;font-size:8px;line-height:8px;color:#fff;">*</div>
</div></div>
</body></html>
